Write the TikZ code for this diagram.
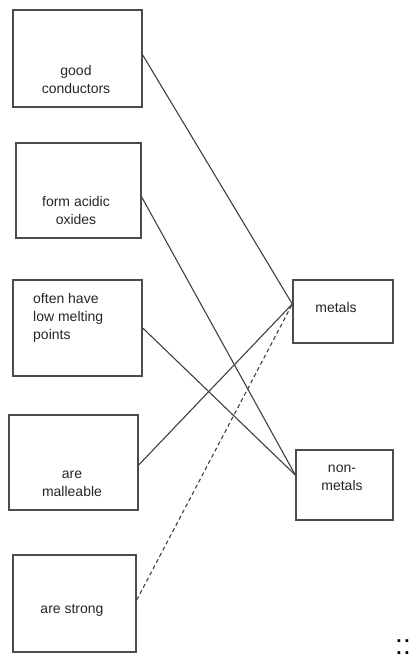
\documentclass[tikz,border=0pt]{standalone}
\usepackage{fontspec}
\setmainfont{Liberation Sans}
\begin{document}
\begin{tikzpicture}[x=1pt,y=-1pt,
  box/.style={draw=black!70,line width=1.4pt,minimum width=#1,inner sep=0pt},
  lbl/.style={font=\fontsize{14}{18}\selectfont,text=black!85,align=center,inner sep=0pt},
  link/.style={draw=black!75,line width=1.1pt},
  dlink/.style={link,dash pattern=on 4pt off 3pt}]
\useasboundingbox (0,0) rectangle (412,660);
% left boxes
\node[box=129pt,minimum height=97pt] (b1) at (77.5,58.5) {};
\node[box=125pt,minimum height=95pt] (b2) at (78.5,190.5) {};
\node[box=129pt,minimum height=96pt] (b3) at (77.5,328) {};
\node[box=129pt,minimum height=95pt] (b4) at (73.5,462.5) {};
\node[box=123pt,minimum height=97pt] (b5) at (74.5,603.5) {};
% right boxes
\node[box=100pt,minimum height=63pt] (m) at (343,311.5) {};
\node[box=97pt,minimum height=70pt] (n) at (344.5,485) {};
% texts
\node[lbl] (t1) at (76,79) {good\\conductors};
\node[lbl] (t2) at (76,210) {form acidic\\oxides};
\node[lbl,align=left,anchor=west] (t3) at (33,318) {often have\\low melting\\points};
\node[lbl] (t4) at (72,484) {are\\malleable};
\node[lbl] (t5) at (72,610) {are strong};
\node[lbl] (tm) at (336,307) {metals};
\node[lbl] (tn) at (342,478) {non-\\metals};
\node[font=\fontsize{28}{28}\selectfont,inner sep=0pt] (dots) at (403,647) {::};
% anchor coordinates
\coordinate (p1) at (b1.east |- 0,55);
\coordinate (p2) at (b2.east |- 0,197);
\coordinate (p3) at (b3.east |- 0,328);
\coordinate (p4) at (b4.east |- 0,465);
\coordinate (p5) at (b5.east |- 0,600);
\coordinate (pm) at (m.west |- 0,304);
\coordinate (pn) at (n.west |- 0,475);
\draw[link] (p1) -- (pm);
\draw[link] (p2) -- (pn);
\draw[link] (p3) -- (pn);
\draw[link] (p4) -- (pm);
\draw[dlink] (p5) -- (pm);
\end{tikzpicture}
\end{document}
